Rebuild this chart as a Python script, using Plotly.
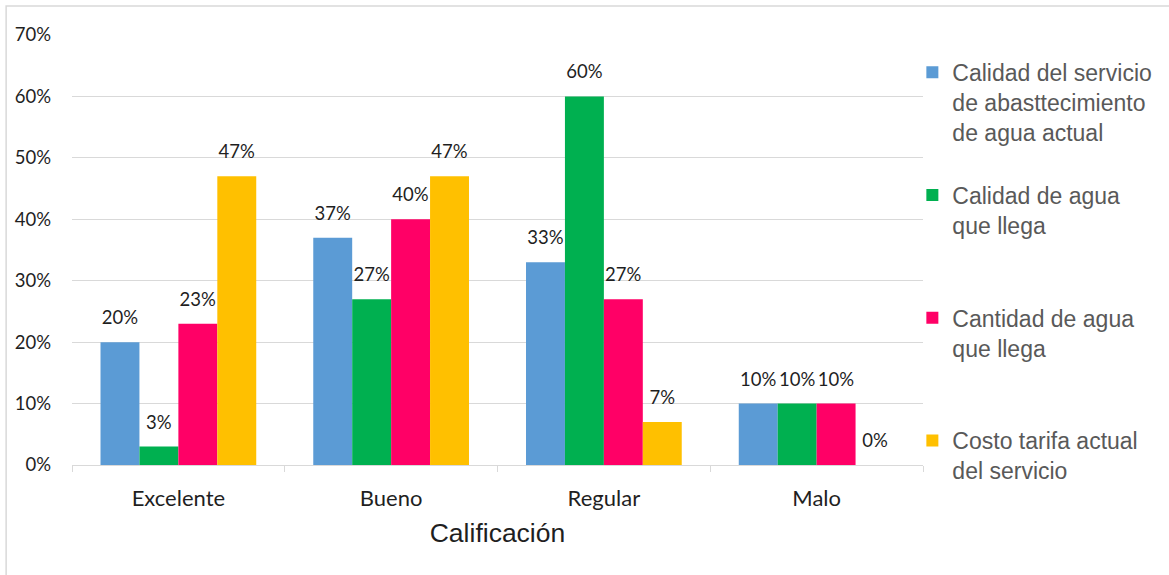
import plotly.graph_objects as go

categories = ["Excelente", "Bueno", "Regular", "Malo"]
series_names = [
    "Calidad del servicio<br>de abasttecimiento<br>de agua actual",
    "Calidad de agua<br>que llega<br> ",
    "Cantidad de agua<br>que llega<br> ",
    "Costo tarifa actual<br>del servicio",
]
calidad_servicio = [20, 37, 33, 10]
calidad_agua = [3, 27, 60, 10]
cantidad_agua = [23, 40, 27, 10]
costo_tarifa = [47, 47, 7, 0]
series_values = [calidad_servicio, calidad_agua, cantidad_agua, costo_tarifa]
colors = ["#5B9BD5", "#00B050", "#FF0066", "#FFC000"]
y_ticks = [0, 10, 20, 30, 40, 50, 60, 70]
y_tick_labels = [f"{v}%" for v in y_ticks]

LABEL_FONT = "Lato"
LEGEND_FONT = "Liberation Sans, Arial"

fig = go.Figure()
for i, (name, vals, col) in enumerate(zip(series_names, series_values, colors)):
    fig.add_trace(go.Bar(
        x=categories, y=vals, name=name, legendgroup=f"g{i}",
        marker=dict(color=col, line=dict(width=0)),
        text=[f"{v}%" for v in vals],
        texttemplate="<span style='font-size:18.5px'>%{text}</span><br> ",
        textposition="outside",
        textfont=dict(family=LABEL_FONT, size=10, color="#1f1f1f"),
        constraintext="none",
        cliponaxis=False,
        hoverinfo="skip",
    ))

# plot area: x 72..925, y 35..465
fig.update_layout(
    width=1169, height=575,
    margin=dict(l=72, r=244, t=35, b=110, pad=0),
    paper_bgcolor="white", plot_bgcolor="white",
    barmode="group", bargap=0.268, bargroupgap=0,
    showlegend=True,
    legend=dict(
        x=0.9875, xanchor="left", y=0.963, yanchor="top",
        font=dict(family=LEGEND_FONT, size=23, color="#595959"),
        tracegroupgap=30, valign="top", maxheight=800,
        bgcolor="rgba(0,0,0,0)", itemclick=False,
    ),
    xaxis=dict(
        type="category",
        showline=True, linecolor="#d9d9d9", linewidth=1.3,
        ticks="outside", tickson="boundaries", ticklen=6,
        tickcolor="#d9d9d9", tickwidth=1.3,
        tickfont=dict(family=LABEL_FONT, size=22, color="#1f1f1f"),
        ticklabelstandoff=13,
        showgrid=False, zeroline=False,
        title=dict(text="Calificación", standoff=13,
                   font=dict(family=LEGEND_FONT, size=26.5, color="#1f1f1f")),
        automargin=False,
    ),
    yaxis=dict(
        range=[0, 70], tickvals=y_ticks, ticktext=y_tick_labels,
        showgrid=True, gridcolor="#d9d9d9", gridwidth=1.3,
        zeroline=False, showline=False, ticks="",
        tickfont=dict(family=LABEL_FONT, size=18.5, color="#1f1f1f"),
        ticklabelstandoff=20,
        automargin=False,
    ),
    shapes=[dict(
        type="rect", xref="paper", yref="paper",
        x0=-0.0774, x1=1.4, y0=-0.4, y1=1.0674,
        line=dict(color="#d9d9d9", width=1.5), fillcolor="rgba(0,0,0,0)",
        layer="below",
    )],
)

fig.write_html(
    "out.html",
    config={"displayModeBar": False},
    post_script="document.body.style.margin='0px';document.body.style.overflow='hidden';",
)
